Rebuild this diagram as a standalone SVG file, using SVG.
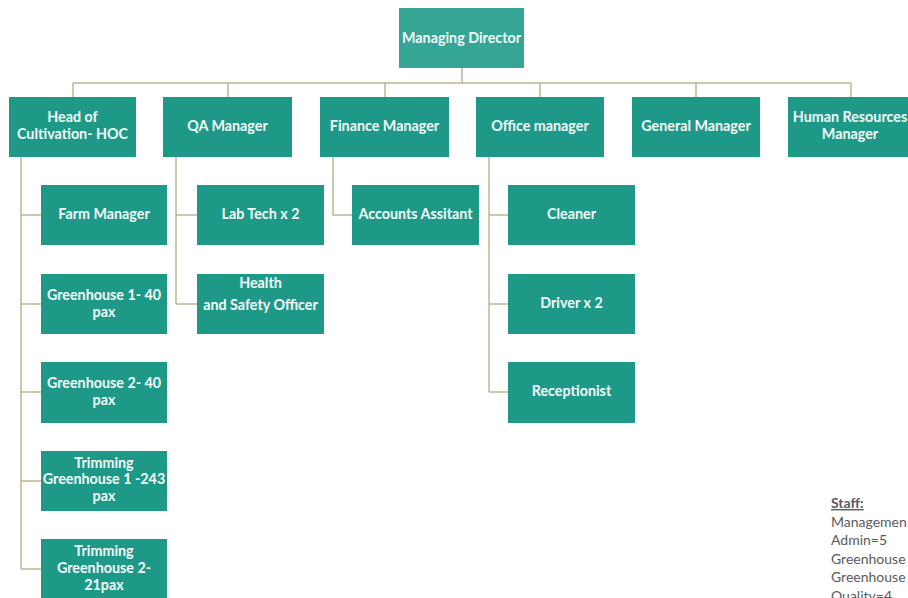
<svg xmlns="http://www.w3.org/2000/svg" width="908" height="598" viewBox="0 0 908 598">
<style>
.box{fill:#1f9987}
.top{fill:#35a596}
.t{font-family:Lato,"Liberation Sans",sans-serif;font-weight:bold;font-size:14.3px;fill:#f2fbf8;text-anchor:middle}
.c{fill:none;stroke:#bdb592;stroke-width:1.5}
.s{font-family:Lato,"Liberation Sans",sans-serif;font-size:14px;fill:#5a5a5a}
</style>
<rect width="908" height="598" fill="#ffffff"/>
<g id="connectors" class="c">
<path d="M462 68V83M73 83H851M73 83V97M228 83V97M385 83V97M540 83V97M696 83V97M851 83V97"/>
<path d="M21 157V569M21 215H41M21 304H41M21 392H41M21 481H41M21 569H41"/>
<path d="M176 157V304M176 215H197M176 304H197"/>
<path d="M333 157V215H352"/>
<path d="M489 157V392M489 215H508M489 304H508M489 392H508"/>
</g>
<g id="managing-director"><rect class="top" x="399" y="8" width="125" height="60"/><text class="t" x="461.5" y="43">Managing Director</text></g>
<g id="hoc"><rect class="box" x="9" y="97" width="127" height="60"/><text class="t" x="72.5" y="122">Head of</text><text class="t" x="72.5" y="139">Cultivation- HOC</text></g>
<g id="qa-manager"><rect class="box" x="163" y="97" width="129" height="60"/><text class="t" x="227.5" y="131">QA Manager</text></g>
<g id="finance-manager"><rect class="box" x="320" y="97" width="129" height="60"/><text class="t" x="384.5" y="131">Finance Manager</text></g>
<g id="office-manager"><rect class="box" x="476" y="97" width="128" height="60"/><text class="t" x="540" y="131">Office manager</text></g>
<g id="general-manager"><rect class="box" x="632" y="97" width="128" height="60"/><text class="t" x="696" y="131">General Manager</text></g>
<g id="hr-manager"><rect class="box" x="788" y="97" width="128" height="60"/><text class="t" x="850" y="122">Human Resources</text><text class="t" x="850" y="139">Manager</text></g>
<g id="farm-manager"><rect class="box" x="41" y="185" width="126" height="60"/><text class="t" x="104" y="219">Farm Manager</text></g>
<g id="greenhouse-1"><rect class="box" x="41" y="274" width="126" height="60"/><text class="t" x="104" y="300">Greenhouse 1- 40</text><text class="t" x="104" y="317">pax</text></g>
<g id="greenhouse-2"><rect class="box" x="41" y="362" width="126" height="61"/><text class="t" x="104" y="388">Greenhouse 2- 40</text><text class="t" x="104" y="405">pax</text></g>
<g id="trimming-1"><rect class="box" x="41" y="451" width="126" height="60"/><text class="t" x="104" y="468">Trimming</text><text class="t" x="104" y="484">Greenhouse 1 -243</text><text class="t" x="104" y="501">pax</text></g>
<g id="trimming-2"><rect class="box" x="41" y="539" width="126" height="62"/><text class="t" x="104" y="556">Trimming</text><text class="t" x="104" y="573">Greenhouse 2-</text><text class="t" x="104" y="590">21pax</text></g>
<g id="lab-tech"><rect class="box" x="197" y="185" width="127" height="60"/><text class="t" x="260.5" y="219">Lab Tech x 2</text></g>
<g id="health-safety"><rect class="box" x="197" y="274" width="127" height="60"/><text class="t" x="260.5" y="288">Health</text><text class="t" x="260.5" y="310">and Safety Officer</text></g>
<g id="accounts-assistant"><rect class="box" x="352" y="185" width="127" height="60"/><text class="t" x="415.5" y="219">Accounts Assitant</text></g>
<g id="cleaner"><rect class="box" x="508" y="185" width="127" height="60"/><text class="t" x="571.5" y="219">Cleaner</text></g>
<g id="driver"><rect class="box" x="508" y="274" width="127" height="60"/><text class="t" x="571.5" y="308">Driver x 2</text></g>
<g id="receptionist"><rect class="box" x="508" y="362" width="127" height="61"/><text class="t" x="571.5" y="396">Receptionist</text></g>
<g id="staff-notes">
<text class="s" x="831" y="508" font-weight="bold" text-decoration="underline">Staff:</text>
<text class="s" x="831" y="527">Managemen</text>
<text class="s" x="831" y="545">Admin=5</text>
<text class="s" x="831" y="564">Greenhouse</text>
<text class="s" x="831" y="582">Greenhouse</text>
<text class="s" x="831" y="601">Quality=4</text>
</g>
</svg>
